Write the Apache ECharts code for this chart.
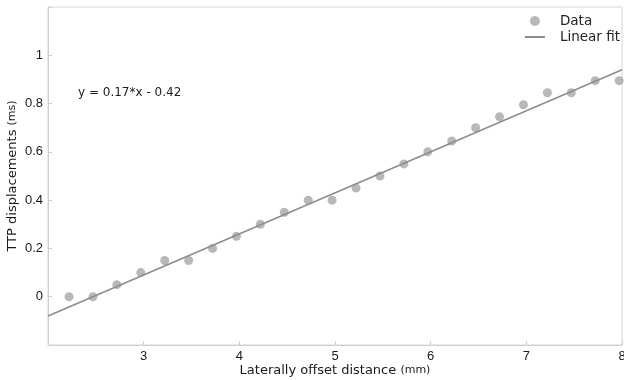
<!DOCTYPE html>
<html>
<head>
<meta charset="utf-8">
<script src="https://cdn.jsdelivr.net/npm/echarts@6/dist/echarts.min.js"></script>
<style>html,body{margin:0;padding:0;background:#fff}#c{width:624px;height:380px}</style>
</head>
<body>
<div id="c"></div>
<script>
var dataX = [2.22,2.47,2.72,2.97,3.22,3.47,3.72,3.97,4.22,4.47,4.72,4.97,5.22,5.47,5.72,5.97,6.22,6.47,6.72,6.97,7.22,7.47,7.72,7.97];
var dataY = [0,0,0.05,0.1,0.15,0.15,0.2,0.25,0.3,0.35,0.4,0.4,0.45,0.5,0.55,0.6,0.645,0.7,0.745,0.795,0.845,0.845,0.895,0.895];
var fitX = [2, 8];
var fitY = [-0.08, 0.94];
var xTicks = [3,4,5,6,7,8];
var yTicks = [0,0.2,0.4,0.6,0.8,1];
var equation = 'y = 0.17*x - 0.42';

var chart = echarts.init(document.getElementById('c'), null, {renderer:'canvas'});
var font = 'Liberation Sans, Arial, sans-serif';
var wide = 'DejaVu Sans, sans-serif';
chart.setOption({
  animation:false,
  textStyle:{fontFamily:font},
  grid:{left:48,right:2,top:7,bottom:35,show:true,borderColor:'#d6d6d6',borderWidth:1,outerBoundsMode:'none',containLabel:false},
  legend:{
    orient:'vertical', right:4, top:14, padding:0, itemGap:2, itemWidth:20, itemHeight:10,
    textStyle:{fontFamily:wide,fontSize:13.5,color:'#222',padding:[0,0,0,10]},
    data:[{name:'Data',icon:'circle'},{name:'Linear fit',itemStyle:{opacity:0}}]
  },
  graphic:[{type:'text',left:78,top:87,style:{text:equation,font:'12px '+wide,fill:'#222'}}],
  xAxis:{
    type:'value',min:2,max:8,interval:1,
    axisLine:{show:true,onZero:false,lineStyle:{color:'#d0d0d0'}},
    axisTick:{show:true,inside:true,length:4,lineStyle:{color:'#d0d0d0'}},
    splitLine:{show:false},
    axisLabel:{color:'#1a1a1a',fontSize:13,margin:5,fontFamily:font,
      formatter:function(v){return xTicks.indexOf(v)>=0?String(v):'';}},
    name:'{a|Laterally offset distance }{b|(mm)}',nameLocation:'middle',nameGap:19,nameMoveOverlap:false,
    nameTextStyle:{rich:{a:{fontSize:13,color:'#1a1a1a',fontFamily:wide},b:{fontSize:11,color:'#1a1a1a',fontFamily:wide}}}
  },
  yAxis:{
    type:'value',min:-0.2,max:1.2,interval:0.2,
    axisLine:{show:true,onZero:false,lineStyle:{color:'#d0d0d0'}},
    axisTick:{show:true,inside:true,length:4,lineStyle:{color:'#d0d0d0'}},
    splitLine:{show:false},
    axisLabel:{color:'#1a1a1a',fontSize:13,margin:5,fontFamily:font,
      formatter:function(v){var r=Math.round(v*10)/10;return yTicks.indexOf(r)>=0?String(r):'';}},
    name:'{a|TTP displacements }{b|(ms)}',nameLocation:'middle',nameGap:29,nameMoveOverlap:false,
    nameTextStyle:{rich:{a:{fontSize:13,color:'#1a1a1a',fontFamily:wide},b:{fontSize:11,color:'#1a1a1a',fontFamily:wide}}}
  },
  series:[
    {name:'Data',type:'scatter',symbol:'circle',symbolSize:9,
     itemStyle:{color:'#a6a6a6'},
     data:dataX.map(function(x,i){return [x,dataY[i]];}),z:2},
    {name:'Linear fit',type:'line',symbol:'none',
     lineStyle:{color:'#8c8c8c',width:1.5},itemStyle:{color:'#8c8c8c'},
     data:fitX.map(function(x,i){return [x,fitY[i]];}),z:3}
  ]
});
</script>
</body>
</html>
